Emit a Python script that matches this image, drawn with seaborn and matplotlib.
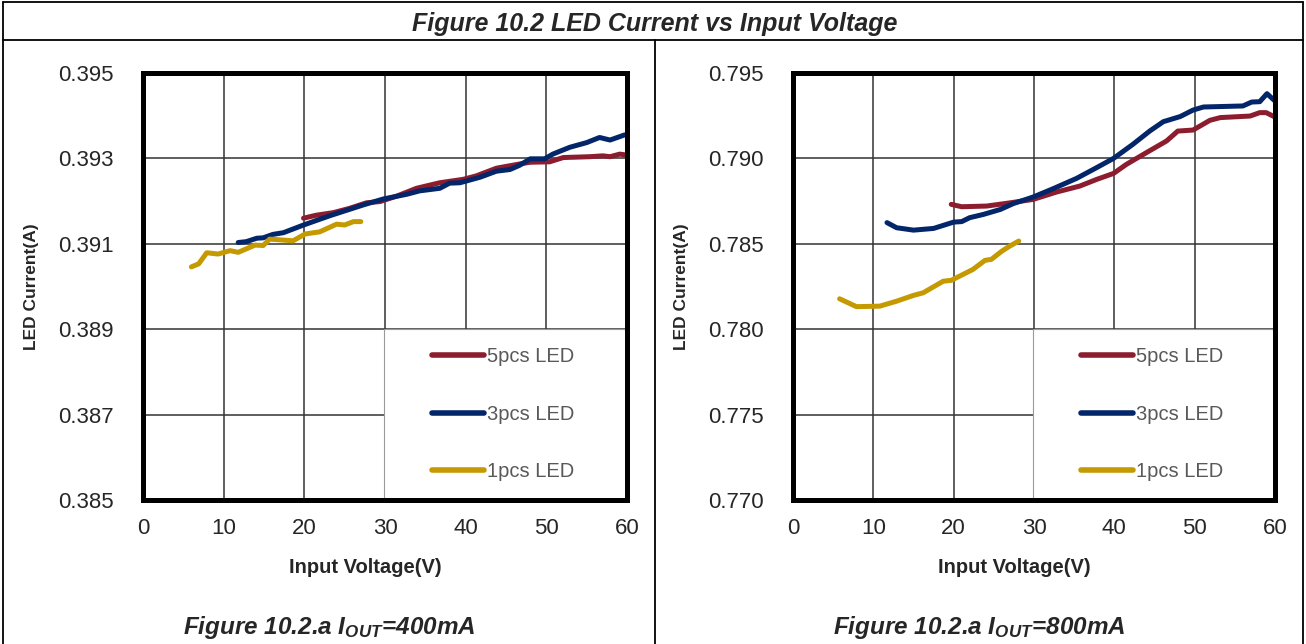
"""LED current vs input voltage, two panels (400mA / 800mA)."""

import matplotlib.pyplot as plt
import pandas as pd
import seaborn as sns
from matplotlib.lines import Line2D
from matplotlib.patches import Rectangle
from matplotlib.ticker import FormatStrFormatter

# ---- data ----
SERIES = ["5pcs LED", "3pcs LED", "1pcs LED"]
COLORS = {"5pcs LED": "#8C1D2F", "3pcs LED": "#03266B", "1pcs LED": "#C49A00"}

# Iout = 400mA
v400_5 = [19.9, 21.5, 23.6, 25.6, 27.7, 29.4, 31.5, 33.9, 36.8, 39.7, 41.3,
          43.8, 46.7, 48.0, 50.4, 52.1, 55.4, 57.0, 57.9, 59.1, 59.9]
i400_5 = [0.39160, 0.39167, 0.39173, 0.39183, 0.39196, 0.39199, 0.39212,
          0.39230, 0.39243, 0.39251, 0.39259, 0.39277, 0.39287, 0.39291,
          0.39292, 0.39302, 0.39304, 0.39306, 0.39304, 0.39310, 0.39308]
v400_3 = [11.8, 12.8, 14.1, 14.9, 16.1, 17.4, 19.9, 23.2, 27.3, 29.8, 32.7,
          34.3, 36.8, 38.0, 39.3, 41.8, 43.8, 45.5, 46.7, 48.0, 49.8, 50.8,
          52.9, 55.0, 56.6, 57.9, 59.7]
i400_3 = [0.39103, 0.39105, 0.39113, 0.39114, 0.39122, 0.39126, 0.39144,
          0.39166, 0.39191, 0.39205, 0.39216, 0.39224, 0.39230, 0.39242,
          0.39243, 0.39256, 0.39270, 0.39274, 0.39284, 0.39299, 0.39299,
          0.39310, 0.39326, 0.39337, 0.39349, 0.39343, 0.39355]
v400_1 = [6.0, 6.9, 7.9, 9.3, 10.8, 11.8, 13.9, 14.9, 15.7, 18.6, 20.1, 21.9,
          24.0, 25.0, 26.1, 27.0]
i400_1 = [0.39046, 0.39053, 0.39079, 0.39076, 0.39084, 0.39080, 0.39097,
          0.39096, 0.39111, 0.39107, 0.39123, 0.39128, 0.39146, 0.39144,
          0.39152, 0.39152]

# Iout = 800mA
v800_5 = [19.7, 21.0, 24.1, 26.6, 29.9, 32.8, 35.7, 37.8, 39.9, 41.5, 44.0,
          46.5, 47.9, 49.8, 51.9, 53.2, 56.9, 58.1, 58.9, 60.0]
i800_5 = [0.78731, 0.78717, 0.78721, 0.78737, 0.78760, 0.78803, 0.78838,
          0.78877, 0.78912, 0.78965, 0.79034, 0.79102, 0.79160, 0.79166,
          0.79223, 0.79239, 0.79248, 0.79268, 0.79268, 0.79242]
v800_3 = [11.7, 12.9, 15.0, 17.5, 20.0, 21.0, 22.0, 23.7, 25.8, 27.4, 29.9,
          32.4, 35.3, 37.8, 39.9, 42.3, 44.4, 46.1, 48.2, 49.8, 51.1, 56.0,
          57.1, 58.1, 59.0, 60.0]
i800_3 = [0.78624, 0.78594, 0.78580, 0.78590, 0.78627, 0.78630, 0.78653,
          0.78672, 0.78701, 0.78735, 0.78774, 0.78823, 0.78883, 0.78946,
          0.79000, 0.79082, 0.79160, 0.79215, 0.79245, 0.79283, 0.79301,
          0.79307, 0.79330, 0.79332, 0.79379, 0.79336]
v800_1 = [5.8, 7.9, 10.8, 12.9, 15.0, 16.2, 18.7, 19.7, 22.4, 23.9, 24.7,
          26.0, 27.0, 28.1]
i800_1 = [0.78178, 0.78132, 0.78135, 0.78164, 0.78198, 0.78213, 0.78281,
          0.78286, 0.78350, 0.78403, 0.78409, 0.78457, 0.78487, 0.78516]

X_TICKS = [0, 10, 20, 30, 40, 50, 60]
Y400_TICKS = [0.385, 0.387, 0.389, 0.391, 0.393, 0.395]
Y800_TICKS = [0.770, 0.775, 0.780, 0.785, 0.790, 0.795]

TITLE = "Figure 10.2 LED Current vs Input Voltage"
CAPTION_400 = "Figure 10.2.a I$_{OUT}$=400mA"
CAPTION_800 = "Figure 10.2.a I$_{OUT}$=800mA"


def make_df(pairs):
    rows = {"Input Voltage(V)": [], "LED Current(A)": [], "LED": []}
    for name, (v, i) in zip(SERIES, pairs):
        rows["Input Voltage(V)"] += v
        rows["LED Current(A)"] += i
        rows["LED"] += [name] * len(v)
    return pd.DataFrame(rows)


def draw_panel(ax, df, yticks):
    sns.lineplot(data=df, x="Input Voltage(V)", y="LED Current(A)", hue="LED",
                 hue_order=SERIES, palette=COLORS, sort=False, estimator=None,
                 linewidth=3.6, legend=False, ax=ax)
    for ln in ax.lines:
        ln.set_solid_capstyle("round")
        ln.set_solid_joinstyle("round")

    ax.set_xlim(X_TICKS[0], X_TICKS[-1])
    ax.set_ylim(yticks[0], yticks[-1])
    ax.set_xticks(X_TICKS)
    ax.set_yticks(yticks)
    ax.yaxis.set_major_formatter(FormatStrFormatter("%.3f"))
    ax.set_axisbelow(True)
    ax.grid(True, color="#333333", linewidth=1.1)
    for sp in ax.spines.values():
        sp.set_visible(True)
        sp.set_color("black")
        sp.set_linewidth(3.6)
        sp.set_capstyle("projecting")
    ax.tick_params(axis="both", length=0, labelsize=16)
    ax.tick_params(axis="y", pad=21)
    ax.tick_params(axis="x", pad=13)

    ax.set_xlabel("Input Voltage(V)", fontsize=14.5, fontweight="bold")
    ax.set_ylabel("LED Current(A)", fontsize=12.5, fontweight="bold")
    ax.xaxis.set_label_coords(0.459, -0.137)
    ax.yaxis.set_label_coords(-0.215, 0.5)

    # legend box sitting over the grid in the lower right corner
    ax.add_patch(Rectangle((0.498, 0.0), 0.502, 0.40, transform=ax.transAxes,
                           facecolor="white", edgecolor="#9a9a9a",
                           linewidth=0.8, zorder=1))
    handles = [Line2D([], [], color=COLORS[s], linewidth=4,
                      solid_capstyle="round") for s in SERIES]
    ax.legend(handles, SERIES, loc="center left",
              bbox_to_anchor=(0.576, 0.201), frameon=False, borderpad=0,
              fontsize=14.5, labelcolor="#595959", handlelength=2.6,
              handletextpad=0.15, labelspacing=1.9)


sns.set_style("white")
plt.rcParams["font.family"] = ["Liberation Sans", "DejaVu Sans"]
plt.rcParams["mathtext.default"] = "regular"

fig = plt.figure(figsize=(13.06, 6.44), dpi=100)
ax1 = fig.add_axes([143 / 1306, 1 - 500 / 644, 484 / 1306, 427 / 644])
ax2 = fig.add_axes([793 / 1306, 1 - 500 / 644, 482 / 1306, 427 / 644])

draw_panel(ax1, make_df([(v400_5, i400_5), (v400_3, i400_3), (v400_1, i400_1)]),
           Y400_TICKS)
draw_panel(ax2, make_df([(v800_5, i800_5), (v800_3, i800_3), (v800_1, i800_1)]),
           Y800_TICKS)

# table-like frame around the whole figure
frame_kw = dict(color="black", linewidth=1.3, transform=fig.transFigure)
fig.add_artist(Line2D([0.002, 0.998], [0.997, 0.997], **frame_kw))
fig.add_artist(Line2D([0.002, 0.002], [0.0, 0.997], **frame_kw))
fig.add_artist(Line2D([0.998, 0.998], [0.0, 0.997], **frame_kw))
fig.add_artist(Line2D([0.002, 0.998], [0.938, 0.938], **frame_kw))
fig.add_artist(Line2D([0.5015, 0.5015], [0.0, 0.938], **frame_kw))

fig.text(0.5015, 0.962, TITLE, ha="center", va="center", fontsize=18,
         fontweight="bold", fontstyle="italic")
fig.text(329 / 1306, 0.025, CAPTION_400, ha="center", va="center",
         fontsize=17.5, fontweight="bold", fontstyle="italic")
fig.text(979 / 1306, 0.025, CAPTION_800, ha="center", va="center",
         fontsize=17.5, fontweight="bold", fontstyle="italic")

fig.savefig("out.png", dpi=100)
